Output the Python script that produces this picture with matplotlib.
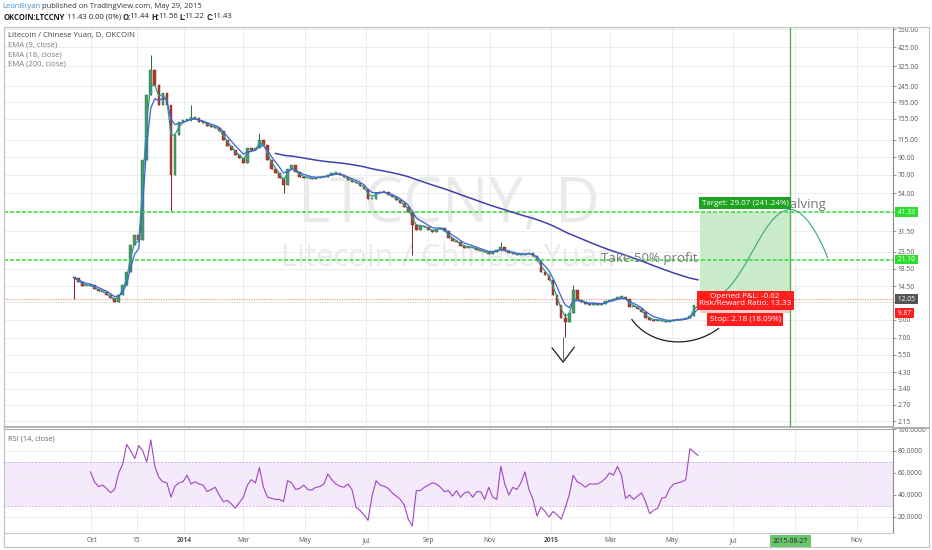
import matplotlib
matplotlib.use("Agg")
import matplotlib.pyplot as plt
import matplotlib.dates as mdates
from matplotlib.path import Path
from matplotlib.patches import PathPatch, Rectangle
from matplotlib.lines import Line2D
from matplotlib.ticker import NullLocator
import numpy as np
import pandas as pd

plt.rcParams['font.family'] = ['Open Sans', 'DejaVu Sans']

W, H = 932, 550

# ---------------- data ----------------
bar_start = "2013-09-14"
bar_freq = "4D"
close = [16.2, 15.3, 14.5, 14.5, 14.7, 13.9, 13.5, 13.3, 12.8, 12.2,
         11.6, 12.8, 14.7, 17.7, 26.0, 29.9, 27.8, 86.0, 216, 310,
         250, 188, 222, 188, 70, 123, 148, 152, 154, 158,
         156, 148, 146, 140, 138, 136, 130, 115, 105, 99,
         93, 89, 83, 102, 99, 102, 115, 107, 86, 76,
         72, 67, 61, 76, 80, 73, 68, 67, 67, 66,
         67, 68, 68, 70, 72, 72, 70, 68, 65, 63,
         62, 60, 57, 50, 50, 54, 55, 55, 52.6, 51,
         49, 47, 44.3, 41.2, 34.4, 32.0, 34.0, 33.4, 32.0, 31.2,
         32.6, 33.0, 31.5, 28.6, 27.4, 27.0, 25.5, 24.9, 25.2, 24.9,
         24.1, 23.8, 23.4, 22.8, 23.4, 24.1, 25.2, 23.8, 23.1, 22.8,
         22.5, 22.5, 22.8, 23.1, 22.2, 20.8, 17.7, 17.0, 15.8, 12.8,
         11.1, 9.2, 8.7, 9.9, 13.7, 11.9, 11.6, 11.3, 11.1, 11.4,
         11.1, 11.3, 11.8, 11.9, 12.1, 12.4, 12.4, 12.1, 10.8, 10.8,
         10.5, 10.0, 9.2, 9.0, 8.85, 9.0, 8.85, 8.7, 8.85, 9.0,
         9.0, 9.1, 9.2, 9.5, 11.1, 11.43]
first_open = 16.6
wick_bar = [0, 19, 24, 29, 46, 52, 84, 106, 122, 124, 155]
wick_high = [16.6, 380, 188, 188, 126, 67, 41, 27.0, 9.9, 14.7, 12.5]
wick_low = [12.0, 216, 42, 150, 102, 54, 22.5, 23.8, 7.1, 9.9, 11.1]

rsi = [61, 52, 47.6, 49, 46, 42, 45, 60, 68, 86,
       80, 73, 85, 80, 70, 90, 66, 56, 52, 51,
       38, 48, 51, 52, 58, 50, 52, 50, 49, 43,
       45, 47, 40, 34, 35, 32, 28, 33, 38, 49,
       54, 51, 65, 47, 38, 37, 36, 36, 34, 53,
       51, 45, 46, 49, 45, 44.5, 47, 47.6, 50, 59,
       54, 50, 48, 47, 50, 45, 29, 26, 22, 17,
       39, 53, 49, 48, 46, 42, 39, 36, 31, 18,
       12, 44, 44, 47, 49, 51, 50, 47, 43, 44,
       39, 44, 38, 42, 43, 38, 43, 43, 36, 47,
       38, 36, 66, 50, 40, 47, 45, 51, 61, 45,
       36, 21, 29, 25, 20, 25, 22, 18, 28, 40,
       58, 52, 50, 47, 50, 50, 50, 52, 55, 60,
       58, 66, 58, 37, 40, 36, 39, 42, 34, 23,
       26, 28, 37, 38, 46, 50, 51, 52, 54, 82,
       79, 76]

ema_lengths = [9, 18, 200]
ema_colors = ['#2f9a86', '#3d63d4', '#4040ad']

price_ticks = [550, 425, 325, 245, 195, 155, 115, 90, 70, 54, 41.5, 31.5,
               23.5, 18.5, 14.5, 11.5, 9.0, 7.0, 5.5, 4.3, 3.4, 2.7, 2.15]
price_tick_labels = ["550.00", "425.00", "325.00", "245.00", "195.00", "155.00",
                     "115.00", "90.00", "70.00", "54.00", "", "31.50", "23.50",
                     "18.50", "14.50", "", "9.00", "7.00", "5.50", "4.30",
                     "3.40", "2.70", "2.15"]
rsi_ticks = [20, 40, 60, 80, 100]
rsi_tick_labels = ["20.0000", "40.0000", "60.0000", "80.0000", "100.0000"]
date_ticks = ["2013-10-01", "2013-11-15", "2014-01-01", "2014-03-01", "2014-05-01",
              "2014-07-01", "2014-09-01", "2014-11-01", "2015-01-01", "2015-03-01",
              "2015-05-01", "2015-07-01", "2015-09-01", "2015-11-01"]
date_tick_labels = ["Oct", "15", "2014", "Mar", "May", "Jul", "Sep", "Nov",
                    "2015", "Mar", "May", "Jul", "", "Nov"]

x_range = ["2013-07-06", "2015-12-07"]
price_range = [1.976, 566]
rsi_range = [5.45, 100]

target_price = 41.33
half_profit_price = 21.10
last_price = 12.05
stop_price = 9.87
entry_date = "2015-05-29"
halving_date = "2015-08-27"

proj_dates = ["2015-06-02", "2015-07-12", "2015-07-27", "2015-08-27",
              "2015-09-10", "2015-09-25", "2015-10-03"]
proj_prices = [11.8, 11.9, 42.8, 42.8, 42.8, 29.3, 21.6]
cup_dates = ["2015-03-22", "2015-04-09", "2015-05-19", "2015-06-17"]
cup_prices = [9.1, 6.3, 5.87, 8.0]
arrow_dates = ["2015-01-02", "2015-01-13", "2015-01-24"]
arrow_prices = [6.04, 4.95, 6.1]
arrow_top = 7.1

# ---------------- figure ----------------
fig = plt.figure(figsize=(W / 100, H / 100), dpi=100)
fig.patch.set_facecolor('white')


def fx(px):
    return px / W


def fy(py):
    return 1 - py / H


ax = fig.add_axes([fx(4), fy(427), fx(893) - fx(4), fy(27) - fy(427)])
axr = fig.add_axes([fx(4), fy(533), fx(893) - fx(4), fy(429) - fy(533)])

dates = pd.date_range(bar_start, periods=len(close), freq=bar_freq)
xd = mdates.date2num(dates)
c = np.array(close, float)
o = np.array([first_open] + close[:-1], float)
hi = np.maximum(o, c)
lo = np.minimum(o, c)
for i, h, l in zip(wick_bar, wick_high, wick_low):
    hi[i] = max(hi[i], h)
    lo[i] = min(lo[i], l)
up = c >= o

xmin, xmax = mdates.date2num(pd.to_datetime(x_range))
for a in (ax, axr):
    a.set_xlim(xmin, xmax)
    a.set_facecolor('white')
    a.set_axisbelow(True)

ax.set_yscale('log')
ax.set_ylim(*price_range)

# grid
tick_x = mdates.date2num(pd.to_datetime(date_ticks))
ax.set_xticks(tick_x)
ax.tick_params(axis='x', labelbottom=False, length=0)
ax.set_yticks(price_ticks)
ax.set_yticklabels(price_tick_labels)
ax.yaxis.set_minor_locator(NullLocator())
ax.yaxis.tick_right()
ax.tick_params(axis='y', labelsize=4.8, labelcolor='#555555', color='#888888',
               length=2, width=0.6, pad=1.5)
ax.grid(True, color='#ececec', lw=0.7)

# watermark
ax.text(0.5, 0.553, "LTCCNY, D", transform=ax.transAxes, ha='center', va='center',
        fontsize=44.5, color='#eaeaea', zorder=0.4)
ax.text(0.5, 0.4225, "Litecoin / Chinese Yuan", transform=ax.transAxes, ha='center',
        va='center', fontsize=22.3, color='#eaeaea', zorder=0.4)

# candles
up_col, up_edge = '#4f9a68', '#2d6a43'
dn_col, dn_edge = '#b63b2f', '#7c2219'
ax.vlines(xd, lo, hi, colors=[up_edge if u else dn_edge for u in up], lw=0.7, zorder=3)
bottoms = np.minimum(o, c)
heights = np.maximum(np.abs(c - o), bottoms * 0.012)
ax.bar(xd, heights, bottom=bottoms, width=2.7,
       color=[up_col if u else dn_col for u in up],
       edgecolor=[up_edge if u else dn_edge for u in up], lw=0.3, zorder=3.2)

# EMAs
s = pd.Series(c, index=dates)
for n, col in zip(ema_lengths, ema_colors):
    alpha = 1 - (1 - 2 / (n + 1)) ** 4
    e = s.ewm(alpha=alpha, adjust=False).mean()
    start = n // 4 if n > 50 else 0
    ax.plot(mdates.date2num(e.index[start:]), e.values[start:], color=col,
            lw=0.9 if n < 200 else 1.1, zorder=4)

# horizontal levels
ax.axhline(target_price, color='#35dc35', lw=1.1, ls=(0, (2.6, 1.3)), zorder=3.5)
ax.axhline(half_profit_price, color='#35dc35', lw=1.1, ls=(0, (2.6, 1.3)), zorder=3.5)
ax.axhline(last_price, color='#e8907a', lw=0.8, ls=(0, (1, 1.2)), zorder=2.5)

x_entry = mdates.date2num(pd.Timestamp(entry_date))
x_halv = mdates.date2num(pd.Timestamp(halving_date))
ax.axvline(x_halv, color='#52b452', lw=1.0, zorder=3.4)

# position box
ax.add_patch(Rectangle((x_entry, last_price), x_halv - x_entry, target_price - last_price,
                       facecolor='#c9ebc9', edgecolor='none', zorder=1.8))
ax.add_patch(Rectangle((x_entry, stop_price), x_halv - x_entry, last_price - stop_price,
                       facecolor='#f6c9c9', edgecolor='none', zorder=1.8))
x_mid = (x_entry + x_halv) / 2

# drawings
pd_x = mdates.date2num(pd.to_datetime(proj_dates))
proj_verts = list(zip(pd_x, proj_prices))
proj_codes = [Path.MOVETO, Path.CURVE4, Path.CURVE4, Path.CURVE4,
              Path.CURVE4, Path.CURVE4, Path.CURVE4]
ax.add_patch(PathPatch(Path(proj_verts, proj_codes), fill=False, edgecolor='#3aa58c',
                       lw=0.8, zorder=4.5))
cu_x = mdates.date2num(pd.to_datetime(cup_dates))
ax.add_patch(PathPatch(Path(list(zip(cu_x, cup_prices)),
                            [Path.MOVETO, Path.CURVE4, Path.CURVE4, Path.CURVE4]),
                       fill=False, edgecolor='#1e1e1e', lw=0.9, zorder=4.5))
ar_x = mdates.date2num(pd.to_datetime(arrow_dates))
ax.plot(ar_x, arrow_prices, color='#1e1e1e', lw=0.9, zorder=4.5)
ax.plot([ar_x[1], ar_x[1]], [arrow_prices[1], arrow_top], color='#555555', lw=0.6, zorder=4.5)

ax.annotate("Take 50% profit", xy=(x_entry, half_profit_price), xytext=(-2, 1),
            textcoords='offset pixels', ha='right', va='center', fontsize=9.5,
            color='#7a7a7a', zorder=5)
ax.annotate("Halving", xy=(x_halv, target_price), xytext=(-10, 8),
            textcoords='offset pixels', ha='left', va='center', fontsize=9.5,
            color='#7a7a7a', zorder=5)

lab_kw = dict(textcoords='offset pixels', ha='center', va='center', fontsize=5.8,
              color='white', zorder=6)
ax.annotate("Target: 29.07 (241.24%)", xy=(x_mid, target_price), xytext=(0, 9),
            bbox=dict(boxstyle='square,pad=0.35', fc='#1ea31e', ec='none'), **lab_kw)
ax.annotate("Opened P&L: -0.62\nRisk/Reward Ratio: 13.33", xy=(x_mid, last_price),
            xytext=(0, -1), linespacing=1.0,
            bbox=dict(boxstyle='square,pad=0.3', fc='#ff1e1e', ec='none'), **lab_kw)
ax.annotate("Stop: 2.18 (18.09%)", xy=(x_mid, stop_price), xytext=(0, -6),
            bbox=dict(boxstyle='square,pad=0.35', fc='#ff1e1e', ec='none'), **lab_kw)

# right axis price badges
ytr = ax.get_yaxis_transform()
for val, txt, fc, tc in [(target_price, "41.33", '#2ede2e', 'white'),
                         (half_profit_price, "21.10", '#2ede2e', 'white'),
                         (last_price, "12.05", '#555555', 'white'),
                         (stop_price, "9.87", '#ff1e1e', 'white')]:
    ax.text(1.0035, val, " " + txt + " ", transform=ytr, ha='left', va='center',
            fontsize=4.9, color=tc, clip_on=False, zorder=7,
            bbox=dict(boxstyle='square,pad=0.2', fc=fc, ec='none'))

for sp in ('top', 'left'):
    ax.spines[sp].set_color('#c8c8c8')
ax.spines['right'].set_color('#8a8a8a')
ax.spines['bottom'].set_color('#a8a8a8')
ax.spines['bottom'].set_linewidth(1.2)

# ---------------- RSI panel ----------------
rsi_x = xd[len(close) - len(rsi):]
axr.set_ylim(*rsi_range)
axr.axhspan(30, 70, color='#f4eafb', zorder=0.3, lw=0)
axr.axhline(70, color='#c9b5dc', lw=0.7, ls=(0, (2, 1.5)), zorder=0.6)
axr.axhline(30, color='#c9b5dc', lw=0.7, ls=(0, (2, 1.5)), zorder=0.6)
axr.plot(rsi_x, rsi, color='#a343c4', lw=0.8, zorder=3)
axr.set_yticks(rsi_ticks)
axr.set_yticklabels(rsi_tick_labels)
axr.yaxis.tick_right()
axr.tick_params(axis='y', labelsize=4.8, labelcolor='#555555', color='#888888',
                length=2, width=0.6, pad=1.5)
axr.set_xticks(tick_x)
axr.set_xticklabels(date_tick_labels)
axr.tick_params(axis='x', labelsize=4.8, labelcolor='#555555', length=0, pad=3)
for t in axr.get_xticklabels():
    if t.get_text() in ('2014', '2015'):
        t.set_fontweight('bold')
axr.grid(True, color='#ececec', lw=0.7)
axr.spines['top'].set_color('#a8a8a8')
axr.spines['left'].set_color('#c8c8c8')
axr.spines['bottom'].set_color('#c8c8c8')
axr.spines['right'].set_color('#8a8a8a')
axr.text(x_halv, -0.078, halving_date, transform=axr.get_xaxis_transform(),
         ha='center', va='center', fontsize=4.8, color='#222222', clip_on=False,
         zorder=7, bbox=dict(boxstyle='square,pad=0.45', fc='#6cc46c', ec='none'))
axr.text(0.005, 0.9, "RSI (14, close)", transform=axr.transAxes, ha='left',
         va='center', fontsize=5.3, color='#666666')

# ---------------- frame ----------------
fig.add_artist(Rectangle((fx(4), fy(547)), fx(929) - fx(4), fy(27) - fy(547),
                         transform=fig.transFigure, fill=False, ec='#c4c4c4', lw=0.8))
fig.add_artist(Line2D([fx(893), fx(929)], [fy(428), fy(428)], color='#a8a8a8', lw=1.2))

# ---------------- header / legend texts ----------------
renderer = fig.canvas.get_renderer()


def runs(x_px, y_px, parts, size):
    x = x_px
    for txt, col, wt, gap in parts:
        x += gap
        t = fig.text(fx(x), fy(y_px), txt, color=col, fontsize=size, fontweight=wt,
                     ha='left', va='center')
        x = t.get_window_extent(renderer).x1


runs(2, 6, [("LeonBryan", '#3d8fd8', 'normal', 0),
            ("published on TradingView.com, May 29, 2015", '#333333', 'normal', 2.2)], 5.5)
runs(3, 17, [("OKCOIN:LTCCNY", '#222222', 'bold', 0), ("11.43 0.00 (0%)", '#222222', 'normal', 2.2),
             ("O:", '#222222', 'bold', 2.2), ("11.44", '#222222', 'normal', -1.5),
             ("H:", '#222222', 'bold', 2.2), ("11.56", '#222222', 'normal', -1.5),
             ("L:", '#222222', 'bold', 2.2), ("11.22", '#222222', 'normal', -1.5),
             ("C:", '#222222', 'bold', 2.2), ("11.43", '#222222', 'normal', -1.5)], 5.5)
fig.text(fx(8), fy(35), "Litecoin / Chinese Yuan, D, OKCOIN", fontsize=5.6,
         color='#444444', ha='left', va='center')
for yy, txt in [(45, "EMA (9, close)"), (54.5, "EMA (18, close)"), (64, "EMA (200, close)")]:
    fig.text(fx(8), fy(yy), txt, fontsize=5.6, color='#7a7a7a', ha='left', va='center')

fig.savefig("out.png", dpi=100, facecolor='white')
